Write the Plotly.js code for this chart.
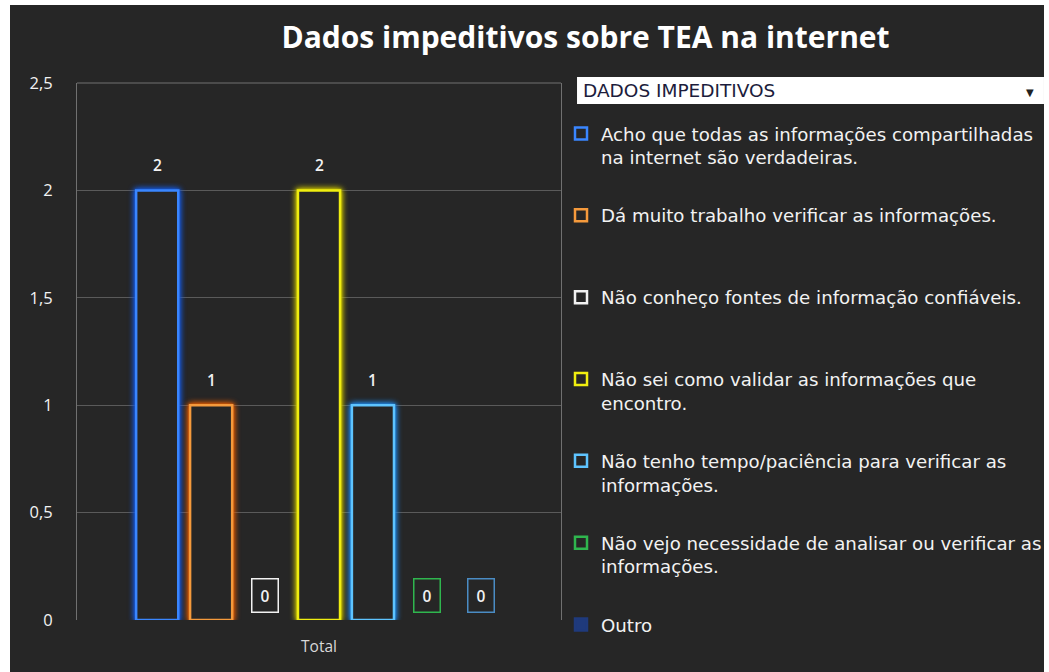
<!DOCTYPE html>
<html>
<head>
<meta charset="utf-8">
<script src="https://cdn.plot.ly/plotly-3.0.1.min.js"></script>
<style>
  html, body { margin: 0; padding: 0; background: #ffffff; width: 1049px; height: 672px; overflow: hidden; }
  #chart { position: absolute; left: 10px; top: 5px; width: 1034px; height: 667px; }
</style>
</head>
<body>
<div id="chart"></div>
<script>
// ---- data ----
const categories = ['Total'];
const seriesNames = [
  'Acho que todas as informações compartilhadas<br>na internet são verdadeiras.',
  'Dá muito trabalho verificar as informações.',
  'Não conheço fontes de informação confiáveis.',
  'Não sei como validar as informações que<br>encontro.',
  'Não tenho tempo/paciência para verificar as<br>informações.',
  'Não vejo necessidade de analisar ou verificar as<br>informações.',
  'Outro'
];
const seriesValues = [2, 1, 0, 2, 1, 0, 0];
const chartTitle = 'Dados impeditivos sobre TEA na internet';
const fieldButtonLabel = 'DADOS IMPEDITIVOS';

// ---- styles ----
const BG = '#262626';
const lineColors = ['#3a86ff', '#f59a3c', '#f2f2f2', '#f0ee10', '#5ec4ff', '#2fb64e', '#4a8cc4'];
const glowColors = ['#1458e0', '#e05a00', '#bbbbbb', '#c8c000', '#1e86e8', '#1a8a36', '#2a5e96'];
const fillColors = [BG, BG, BG, BG, BG, BG, '#1f3a7c'];
const BARGAP = 0.22, GROUPGAP = 0.22;
const FONT = '"Open Sans", "DejaVu Sans", sans-serif';
const LEGEND_FONT = '"DejaVu Sans", sans-serif';

const n = seriesValues.length;
const slot = (1 - BARGAP) / n;

const traces = seriesNames.map((name, i) => ({
  type: 'bar',
  x: categories,
  y: [seriesValues[i]],
  name: name.indexOf('<br>') >= 0 ? name : name + '<br>\u00a0',
  legendgroup: 'g' + i,
  marker: {
    color: seriesValues[i] === 0 ? fillColors[i] : BG,
    line: { color: seriesValues[i] === 0 && i === n - 1 ? fillColors[i] : lineColors[i], width: 2.5 }
  },
  hoverinfo: 'y+name'
}));

// data labels (Excel-style), zero values get a bordered box
const annotations = seriesValues.map((v, i) => {
  const a = {
    xref: 'x', yref: 'y',
    x: -(1 - BARGAP) / 2 + (i + 0.5) * slot,
    y: v,
    text: String(v),
    showarrow: false,
    xanchor: 'center', yanchor: 'middle',
    yshift: 25,
    font: { family: FONT, size: 15.5, color: '#f2f2f2', weight: 600 }
  };
  if (v === 0) {
    a.bordercolor = lineColors[i];
    a.borderwidth = 1.5;
    a.borderpad = 5;
    a.width = 15;
    a.height = 22;
  }
  return a;
});

// field button ("DADOS IMPEDITIVOS" dropdown)
annotations.push({
  xref: 'paper', yref: 'paper', x: 1.041, y: 0.9865, xanchor: 'left', yanchor: 'middle',
  text: fieldButtonLabel, showarrow: false,
  font: { family: LEGEND_FONT, size: 18.5, color: '#1c1c3c' }
});
annotations.push({
  xref: 'paper', yref: 'paper', x: 1.97, y: 0.984, xanchor: 'center', yanchor: 'middle',
  text: '▼', showarrow: false,
  font: { family: FONT, size: 10, color: '#222222' }
});

const shapes = [
  { type: 'line', xref: 'paper', yref: 'paper', x0: 0, x1: 1, y0: 1, y1: 1,
    line: { color: '#707070', width: 1 }, layer: 'below' },
  { type: 'rect', xref: 'paper', yref: 'paper', x0: 1.0331, x1: 1.9979, y0: 0.9609, y1: 1.0112,
    fillcolor: '#ffffff', line: { width: 0 }, layer: 'below' }
];

const layout = {
  width: 1034, height: 667,
  paper_bgcolor: BG, plot_bgcolor: BG,
  separators: ', ',
  margin: { l: 67, r: 483, t: 78, b: 52, pad: 0, autoexpand: false },
  barmode: 'group',
  bargap: BARGAP,
  bargroupgap: GROUPGAP,
  showlegend: true,
  title: {
    text: chartTitle,
    xref: 'container', yref: 'container',
    x: 0.5566, y: 0.951, xanchor: 'center', yanchor: 'middle',
    font: { family: FONT, size: 30, color: '#ffffff', weight: 700 }
  },
  xaxis: {
    type: 'category',
    showgrid: false, zeroline: false, showline: false, ticks: '',
    tickfont: { family: FONT, size: 15.5, color: '#d9d9d9' },
    ticklabelstandoff: 15,
    fixedrange: true
  },
  yaxis: {
    range: [0, 2.5], dtick: 0.5, tick0: 0,
    showgrid: true, gridcolor: '#5a5a5a', gridwidth: 1,
    zeroline: false,
    showline: true, mirror: true, linecolor: '#707070', linewidth: 1,
    ticks: '',
    tickfont: { family: FONT, size: 16.5, color: '#f2f2f2' },
    ticklabelstandoff: 20,
    fixedrange: true
  },
  legend: {
    x: 1.0, xanchor: 'left',
    y: 0.94, yanchor: 'top',
    bgcolor: 'rgba(0,0,0,0)',
    font: { family: LEGEND_FONT, size: 18.2, color: '#f2f2f2' },
    valign: 'top',
    tracegroupgap: 31.5,
    itemclick: false, itemdoubleclick: false
  },
  annotations: annotations,
  shapes: shapes
};

Plotly.newPlot('chart', traces, layout, { displayModeBar: false, staticPlot: true }).then(gd => {
  // glow effect on bar outlines; zero-height bars show only their label box
  const groups = gd.querySelectorAll('g.barlayer g.trace');
  groups.forEach((g, i) => {
    g.querySelectorAll('path').forEach(p => {
      if (seriesValues[i] === 0) { p.style.opacity = 0; return; }
      p.style.filter = 'drop-shadow(0 0 3px ' + glowColors[i] + ') drop-shadow(0 0 1px ' + glowColors[i] + ')';
    });
  });
});
</script>
</body>
</html>
